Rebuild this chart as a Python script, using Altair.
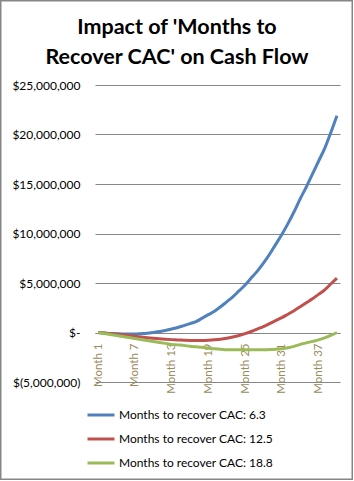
import altair as alt
import pandas as pd

months = list(range(1, 41))
series_names = [
    "Months to recover CAC: 6.3",
    "Months to recover CAC: 12.5",
    "Months to recover CAC: 18.8",
]
# values in $ millions
blue = [0, -0.05, -0.1, -0.12, -0.15, -0.15, -0.15, -0.12, -0.08, 0,
        0.1, 0.2, 0.35, 0.5, 0.7, 0.9, 1.1, 1.45, 1.8, 2.15,
        2.6, 3.1, 3.6, 4.2, 4.8, 5.5, 6.2, 7.0, 7.9, 8.9,
        9.9, 11.0, 12.2, 13.5, 14.7, 16.0, 17.3, 18.6, 20.2, 21.9]
red = [0, -0.05, -0.1, -0.17, -0.23, -0.3, -0.38, -0.45, -0.52, -0.58,
       -0.63, -0.68, -0.72, -0.75, -0.78, -0.8, -0.8, -0.8, -0.78, -0.74,
       -0.68, -0.58, -0.45, -0.3, -0.12, 0.1, 0.35, 0.6, 0.9, 1.2,
       1.5, 1.85, 2.2, 2.6, 3.0, 3.4, 3.85, 4.3, 4.9, 5.5]
green = [0, -0.1, -0.2, -0.3, -0.4, -0.5, -0.6, -0.7, -0.8, -0.9,
         -1.0, -1.1, -1.2, -1.25, -1.3, -1.4, -1.45, -1.5, -1.6, -1.65,
         -1.7, -1.75, -1.75, -1.75, -1.75, -1.75, -1.75, -1.75, -1.72, -1.7,
         -1.65, -1.55, -1.4, -1.2, -1.05, -0.9, -0.75, -0.55, -0.3, 0]
colors = ["#4F81BD", "#C0504D", "#9BBB59"]
tick_months = [1, 7, 13, 19, 25, 31, 37]
y_ticks = [-5000000, 0, 5000000, 10000000, 15000000, 20000000, 25000000]
title_text = "Impact of 'Months to\nRecover CAC' on Cash Flow"

rows = []
for name, vals in zip(series_names, [blue, red, green]):
    for m, v in zip(months, vals):
        rows.append({"month": m, "value": v * 1_000_000, "series": name})
df = pd.DataFrame(rows)

label_expr = ("datum.value == 0 ? '$-' : (datum.value < 0 ? '$(' + format(-datum.value, ',') + ')'"
              " : '$' + format(datum.value, ','))")

lines = alt.Chart(df).mark_line(strokeWidth=3, interpolate="monotone").encode(
    x=alt.X("month:Q", scale=alt.Scale(domain=[0.5, 40.5], nice=False, zero=False),
            axis=alt.Axis(values=tick_months, labelExpr="'Month ' + datum.value",
                          labelAngle=270, labelAlign="right", labelBaseline="middle",
                          labelPadding=10, ticks=False, domain=True, domainColor="#868686",
                          grid=False, title=None, offset=-49,
                          labelColor="#9A8A5C", labelFont="Lato", labelFontSize=11.5)),
    y=alt.Y("value:Q", scale=alt.Scale(domain=[-5000000, 25000000], nice=False),
            axis=alt.Axis(values=y_ticks, labelExpr=label_expr, ticks=False, domain=False,
                          grid=True, gridColor="#868686", gridWidth=1, title=None,
                          labelPadding=15, labelColor="#000000", labelFont="Lato",
                          labelFontSize=12)),
    color=alt.Color("series:N", scale=alt.Scale(domain=series_names, range=colors),
                    legend=alt.Legend(orient="none", legendX=-9, legendY=320, title=None,
                                      symbolType="stroke", symbolSize=729,
                                      symbolStrokeWidth=3, clipHeight=20, rowPadding=4,
                                      labelFont="Lato", labelFontSize=12, labelColor="#000000",
                                      labelOffset=3, labelLimit=300)),
    order="month:Q",
)

title = alt.Chart(pd.DataFrame({"t": [title_text]})).mark_text(
    align="center", baseline="top", font="Lato", fontSize=21.5, fontWeight="bold",
    lineBreak="\n", lineHeight=30, color="#000000"
).encode(x=alt.value(82), y=alt.value(-68.5), text="t:N")

border = alt.Chart(pd.DataFrame({"a": [0]})).mark_rect(
    fill="transparent", stroke="#868686", strokeWidth=1.5
).encode(x=alt.value(-94.25), x2=alt.value(257.25), y=alt.value(-84.25), y2=alt.value(394.25))

chart = alt.layer(border, lines, title).properties(
    width=245, height=297,
    autosize=alt.AutoSizeParams(type="none"),
    padding={"left": 95, "top": 85, "right": 14, "bottom": 99},
    background="white",
).configure_view(stroke=None)

chart.save("out.html", embed_options={"renderer": "svg", "actions": False})
